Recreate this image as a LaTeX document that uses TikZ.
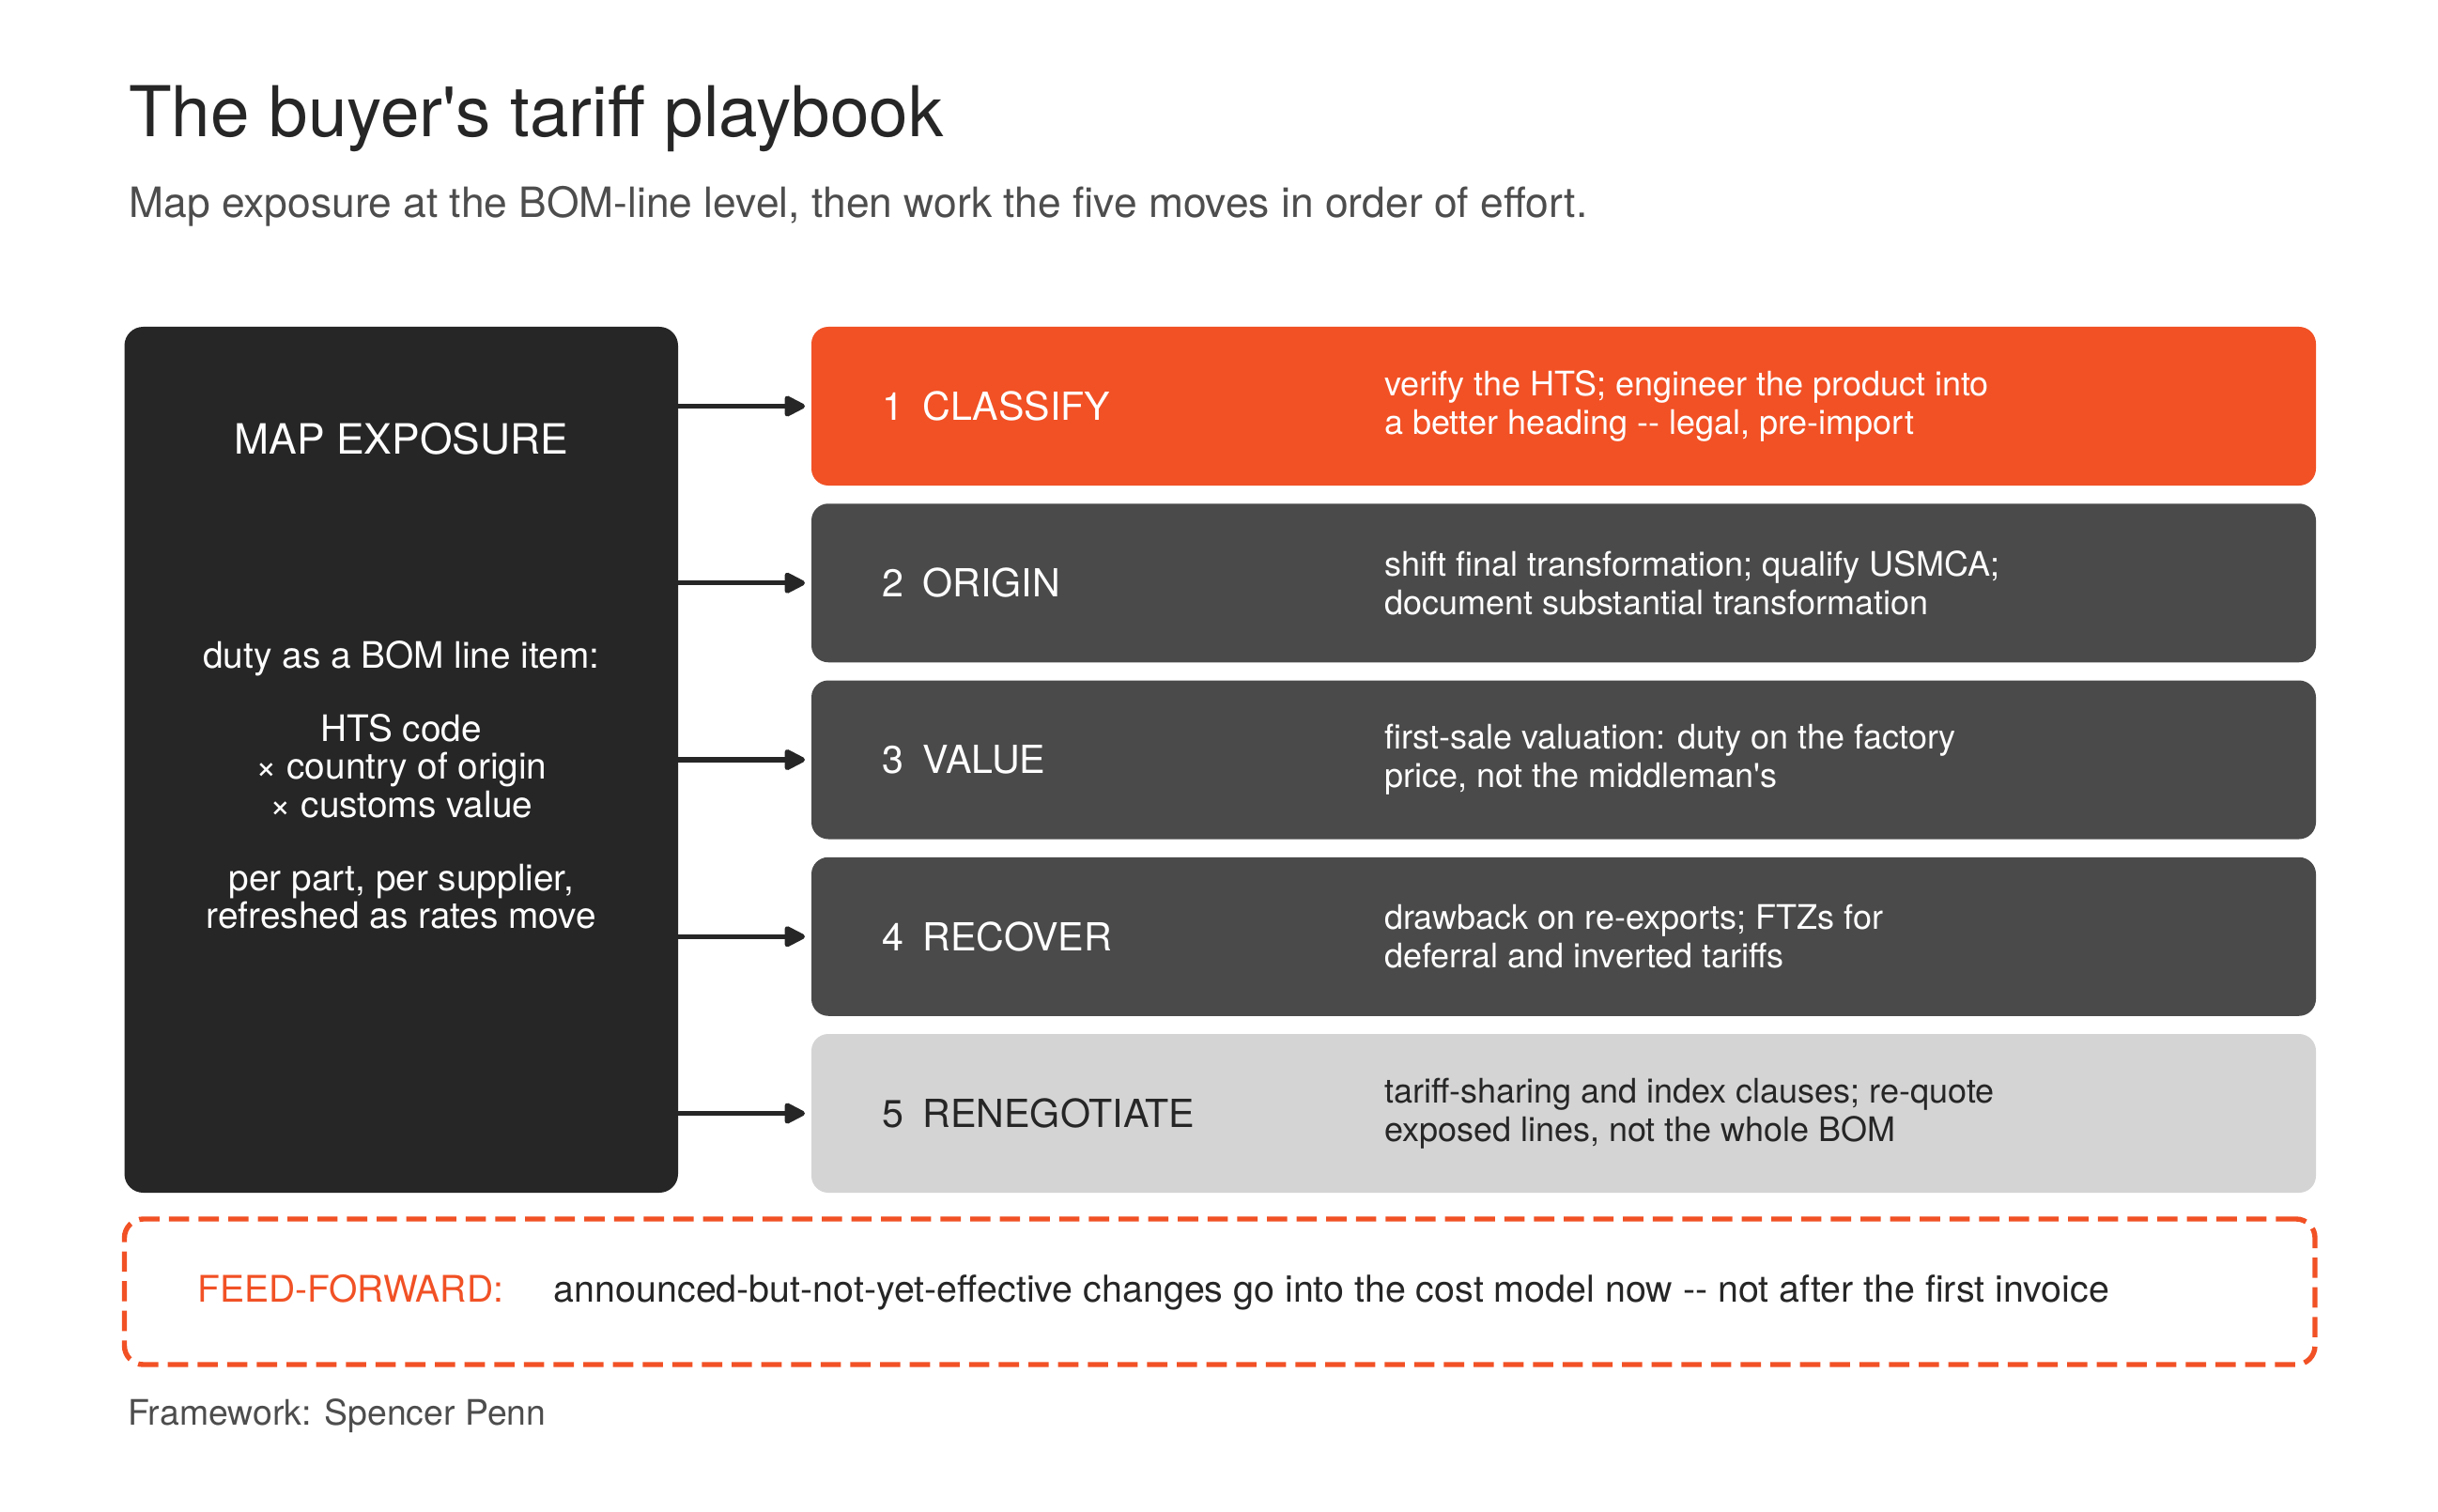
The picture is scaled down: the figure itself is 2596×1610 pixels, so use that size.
\documentclass[tikz,border=0pt]{standalone}
\usepackage{fontspec}
\setmainfont{TeX Gyre Heros}
\usetikzlibrary{positioning,arrows.meta}

\definecolor{tariffred}{HTML}{F15125}
\definecolor{inkbox}{HTML}{262626}
\definecolor{slatebox}{HTML}{4A4A4A}
\definecolor{mistbox}{HTML}{D4D4D4}
\definecolor{subgray}{HTML}{4D4D4D}

\tikzset{
  stepbox/.style = {rounded corners=9pt, minimum width=801pt, minimum height=84.5pt, inner sep=0pt},
  steplabel/.style = {anchor=west, inner sep=0pt, font=\fontsize{20.6}{24}\selectfont},
  stepdesc/.style = {anchor=west, inner sep=0pt, align=left, font=\fontsize{18}{20.7}\selectfont},
  flow/.style = {line width=2.7pt, line cap=round, draw=inkbox, -{Triangle[length=12.5pt, width=12pt, round]}, shorten >=3.3pt},
}

\begin{document}
\begin{tikzpicture}[x=0.5pt, y=-0.5pt]
\useasboundingbox[fill=white] (0,0) rectangle (2596,1610);

% heading
\node[anchor=base west, inner sep=0pt, text=inkbox, font=\fontsize{37.3}{44}\selectfont] (title) at (137,146) {The buyer\textquotesingle s tariff playbook};
\node[anchor=base west, inner sep=0pt, text=subgray, font=\fontsize{22.2}{26}\selectfont] (subtitle) at (137,232) {Map exposure at the BOM-line level, then work the five moves in order of effort.};

% left column
\node[fill=inkbox, rounded corners=10pt, minimum width=294.75pt, minimum height=461pt, inner sep=0pt] (exposure) at (427.25,809) {};
\node[anchor=base, inner sep=0pt, text=white, font=\fontsize{22.2}{26}\selectfont] (exptitle) at (427.25,483.5) {MAP EXPOSURE};
\node[anchor=base, inner sep=0pt, text=white, align=center, font=\fontsize{19.4}{20.3}\selectfont] (expbody) at (427.25,988.6)
  {duty as a BOM line item:\\[18.6pt] HTS code\\ × country of origin\\ × customs value\\[18.6pt] per part, per supplier,\\ refreshed as rates move};

% the five moves
\node[stepbox, fill=tariffred] (s1) at (1665,432.5) {};
\node[stepbox, fill=slatebox] (s2) at (1665,620.75) {};
\node[stepbox, fill=slatebox] (s3) at (1665,809) {};
\node[stepbox, fill=slatebox] (s4) at (1665,997.25) {};
\node[stepbox, fill=mistbox] (s5) at (1665,1185.5) {};

\node[steplabel, text=white] (l1) [right=37.5pt of s1.west] {1\hspace{0.5em}CLASSIFY};
\node[steplabel, text=white] (l2) [right=37.5pt of s2.west] {2\hspace{0.5em}ORIGIN};
\node[steplabel, text=white] (l3) [right=37.5pt of s3.west] {3\hspace{0.5em}VALUE};
\node[steplabel, text=white] (l4) [right=37.5pt of s4.west] {4\hspace{0.5em}RECOVER};
\node[steplabel, text=inkbox] (l5) [right=37.5pt of s5.west] {5\hspace{0.5em}RENEGOTIATE};

\node[stepdesc, text=white] (d1) [right=305pt of s1.west] {verify the HTS; engineer the product into\\ a better heading -{}- legal, pre-import};
\node[stepdesc, text=white] (d2) [right=305pt of s2.west] {shift final transformation; qualify USMCA;\\ document substantial transformation};
\node[stepdesc, text=white] (d3) [right=305pt of s3.west] {first-sale valuation: duty on the factory\\ price, not the middleman\textquotesingle s};
\node[stepdesc, text=white] (d4) [right=305pt of s4.west] {drawback on re-exports; FTZs for\\ deferral and inverted tariffs};
\node[stepdesc, text=inkbox] (d5) [right=305pt of s5.west] {tariff-sharing and index clauses; re-quote\\ exposed lines, not the whole BOM};

\draw[flow] (exposure.east |- s1) -- (s1.west);
\draw[flow] (exposure.east |- s2) -- (s2.west);
\draw[flow] (exposure.east |- s3) -- (s3.west);
\draw[flow] (exposure.east |- s4) -- (s4.west);
\draw[flow] (exposure.east |- s5) -- (s5.west);

% feed-forward note
\node[draw=tariffred, line width=2.7pt, dash pattern=on 10.8pt off 5pt, rounded corners=10pt, minimum width=1166.25pt, minimum height=77.5pt, inner sep=0pt] (feed) at (1298.75,1375.5) {};
\node[anchor=base west, inner sep=0pt, text=tariffred, font=\fontsize{19.5}{23}\selectfont] (feedkey) at (210,1386) {FEED-FORWARD:};
\node[anchor=base west, inner sep=0pt, text=inkbox, font=\fontsize{19.7}{23}\selectfont] (feedtext) at (589.5,1386) {announced-but-not-yet-effective changes go into the cost model now -{}- not after the first invoice};

\node[anchor=base west, inner sep=0pt, text=subgray, font=\fontsize{18.7}{22}\selectfont] (credit) at (136,1517) {Framework: Spencer Penn};
\end{tikzpicture}
\end{document}
